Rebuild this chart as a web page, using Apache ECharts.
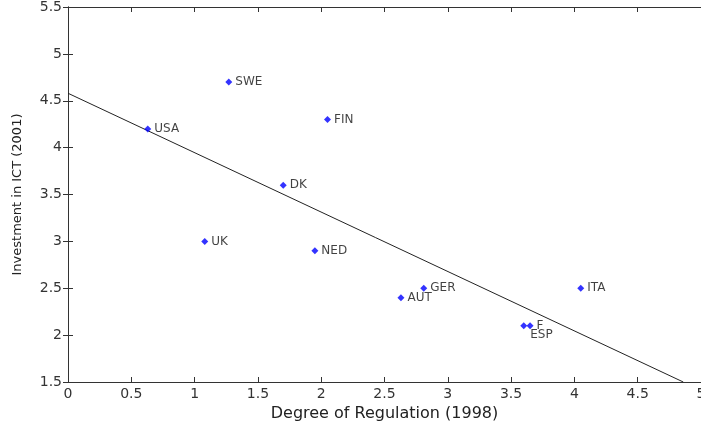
<!DOCTYPE html>
<html>
<head>
<meta charset="utf-8">
<script src="https://cdn.jsdelivr.net/npm/echarts@6/dist/echarts.min.js"></script>
<style>html,body{margin:0;padding:0;background:#fff}#c{width:701px;height:425px}</style>
</head>
<body>
<div id="c"></div>
<script>
var countries = ['USA','SWE','FIN','DK','UK','NED','GER','AUT','ITA','F','ESP'];
var regulation = [0.63, 1.27, 2.05, 1.70, 1.08, 1.95, 2.81, 2.63, 4.05, 3.65, 3.60];
var ictInvestment = [4.2, 4.7, 4.3, 3.6, 3.0, 2.9, 2.5, 2.4, 2.5, 2.1, 2.1];
var fitX = [0, 4.86];
var fitY = [4.58, 1.5];
var xTitle = 'Degree of Regulation (1998)';
var yTitle = 'Investment in ICT (2001)';

var font = 'DejaVu Sans';
var axisCol = '#333';
var pts = countries.map(function (c, i) {
  var d = { value: [regulation[i], ictInvestment[i]], name: c };
  if (c === 'ESP') d.label = { offset: [0, 9] };
  return d;
});
var fit = fitX.map(function (x, i) { return [x, fitY[i]]; });

function fmt(v) { return String(Math.round(v * 10) / 10); }

var chart = echarts.init(document.getElementById('c'), null, { renderer: 'canvas' });
chart.setOption({
  animation: false,
  backgroundColor: '#fff',
  grid: { left: 68, width: 633, top: 7, height: 375, containLabel: false, outerBoundsMode: 'none' },
  xAxis: [{
    type: 'value', min: 0, max: 5, interval: 0.5, position: 'bottom',
    name: xTitle, nameLocation: 'middle', nameGap: 21,
    nameTextStyle: { fontFamily: font, fontSize: 16, color: '#222' },
    axisLine: { show: true, lineStyle: { color: axisCol, width: 1 } },
    axisTick: { show: true, inside: true, length: 5, lineStyle: { color: axisCol } },
    axisLabel: { fontFamily: font, fontSize: 14, color: '#333', margin: 5, formatter: fmt },
    splitLine: { show: false }
  }, {
    type: 'value', min: 0, max: 5, interval: 0.5, position: 'top',
    axisLine: { show: true, lineStyle: { color: axisCol, width: 1 } },
    axisTick: { show: true, inside: true, length: 5, lineStyle: { color: axisCol } },
    axisLabel: { show: false }, splitLine: { show: false }
  }],
  yAxis: [{
    type: 'value', min: 1.5, max: 5.5, interval: 0.5, position: 'left',
    name: yTitle, nameLocation: 'middle', nameGap: 44,
    nameTextStyle: { fontFamily: font, fontSize: 13, color: '#222' },
    axisLine: { show: true, lineStyle: { color: axisCol, width: 1 } },
    axisTick: { show: true, inside: true, length: 5, lineStyle: { color: axisCol } },
    axisLabel: { fontFamily: font, fontSize: 14, color: '#333', margin: 6, formatter: fmt },
    splitLine: { show: false }
  }, {
    type: 'value', min: 1.5, max: 5.5, interval: 0.5, position: 'right',
    axisLine: { show: true, lineStyle: { color: axisCol, width: 1 } },
    axisTick: { show: true, inside: true, length: 5, lineStyle: { color: axisCol } },
    axisLabel: { show: false }, splitLine: { show: false }
  }],
  series: [{
    type: 'line', data: fit, xAxisIndex: 0, yAxisIndex: 0,
    symbol: 'none', lineStyle: { color: '#222', width: 1 }, z: 2
  }, {
    type: 'scatter', data: pts, xAxisIndex: 0, yAxisIndex: 0,
    symbol: 'diamond', symbolSize: [7, 7],
    itemStyle: { color: '#0000ff' },
    label: { show: true, position: 'right', distance: 3, formatter: '{b}',
      fontFamily: font, fontSize: 12, color: '#111' },
    z: 3
  }]
});
</script>
</body>
</html>
